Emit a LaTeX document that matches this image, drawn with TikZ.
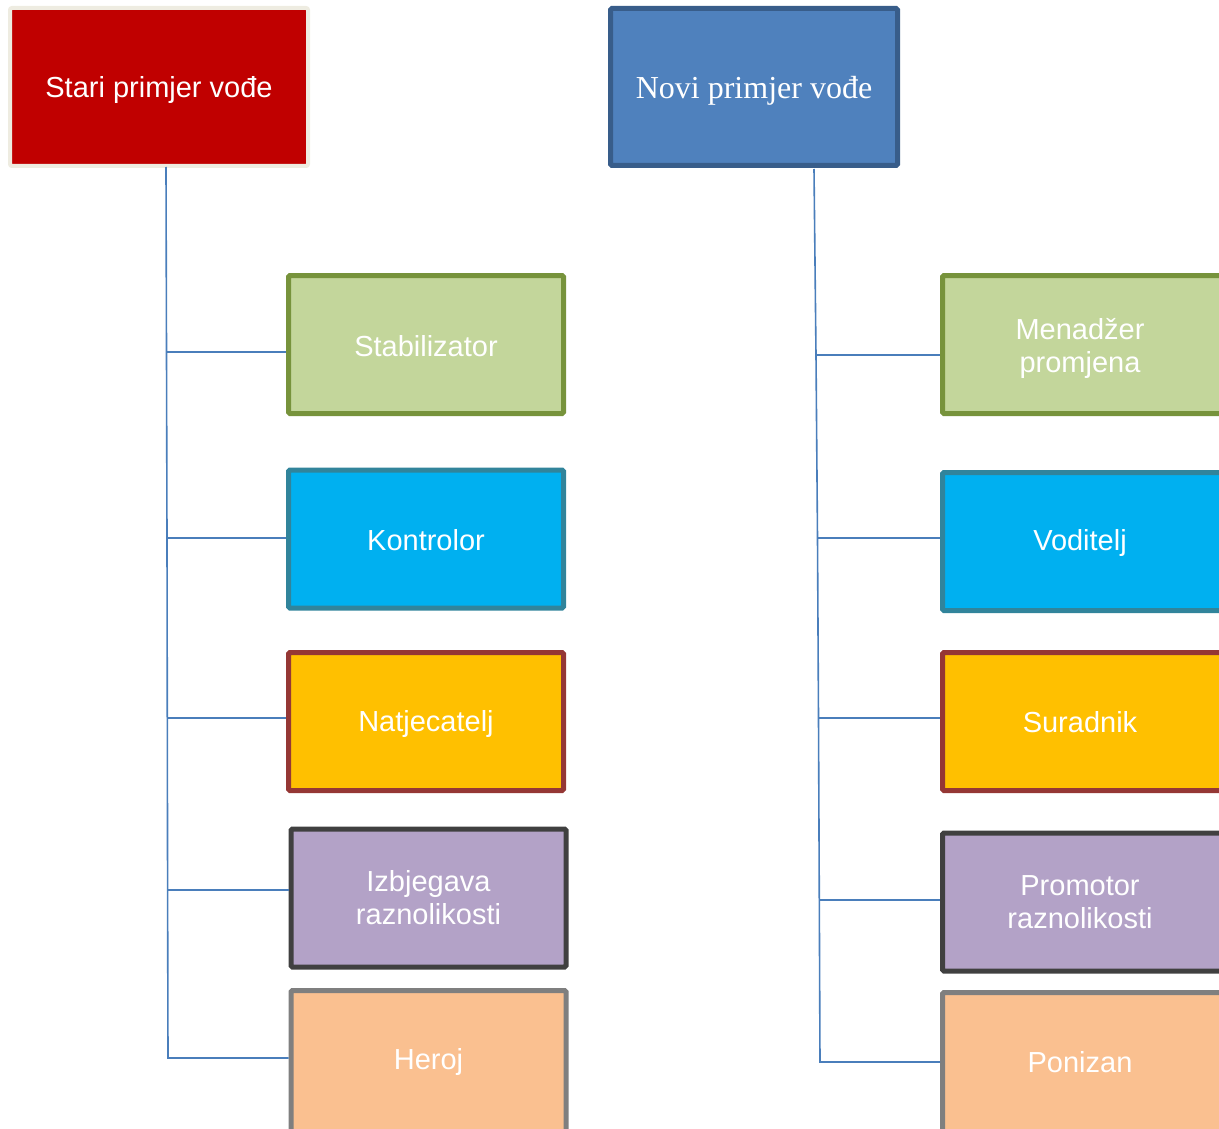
\documentclass[tikz,border=0pt]{standalone}
\usepackage{fontspec}
\setmainfont{Liberation Serif}
\newfontfamily\arialf{Liberation Sans}
\definecolor{titleRed}{HTML}{C00000}
\definecolor{titleRedBorder}{HTML}{EEECE1}
\definecolor{titleBlue}{HTML}{4F81BD}
\definecolor{titleBlueBorder}{HTML}{385D8A}
\definecolor{greenFill}{HTML}{C3D69B}
\definecolor{greenBorder}{HTML}{77933C}
\definecolor{cyanFill}{HTML}{00B0F0}
\definecolor{cyanBorder}{HTML}{31849B}
\definecolor{goldFill}{HTML}{FFC000}
\definecolor{goldBorder}{HTML}{953735}
\definecolor{purpleFill}{HTML}{B3A2C7}
\definecolor{purpleBorder}{HTML}{404040}
\definecolor{peachFill}{HTML}{FAC090}
\definecolor{peachBorder}{HTML}{7F7F7F}
\definecolor{connColor}{HTML}{4A7EBB}
\newcommand{\shiftv}[2]{\raisebox{#1}[\height][\depth]{#2}}
\tikzset{
  boxbase/.style={rectangle, draw, line width=5pt, rounded corners=1.5pt, inner sep=0pt,
    align=center, text=white, font=\arialf\fontsize{29}{33}\selectfont},
  childbox/.style={boxbase, minimum width=275pt, minimum height=138pt},
  greenbox/.style={childbox, fill=greenFill, draw=greenBorder},
  cyanbox/.style={childbox, fill=cyanFill, draw=cyanBorder},
  goldbox/.style={childbox, fill=goldFill, draw=goldBorder},
  purplebox/.style={childbox, fill=purpleFill, draw=purpleBorder},
  peachbox/.style={childbox, fill=peachFill, draw=peachBorder},
  rightbox/.style={minimum width=281pt},
  conn/.style={draw=connColor, line width=1.6pt},
}
\begin{document}
\begin{tikzpicture}[x=1pt,y=-1pt]
\useasboundingbox (0,0) rectangle (1219,1129);
\begin{scope}
\clip (0,0) rectangle (1219,1129);
% titles
\node[boxbase, fill=titleRed, draw=titleRedBorder, line width=4pt, rounded corners=2pt,
  minimum width=298pt, minimum height=158pt] (t1) at (159,87) {\shiftv{-3pt}{Stari primjer vođe}};
\node[boxbase, fill=titleBlue, draw=titleBlueBorder, font=\fontsize{32}{36}\selectfont,
  minimum width=287pt, minimum height=157pt] (t2) at (754,87) {\shiftv{-4pt}{Novi primjer vođe}};
% left children
\node[greenbox] (c1) at (426,344.5) {\shiftv{-1.5pt}{Stabilizator}};
\node[cyanbox] (c2) at (426,539) {\shiftv{-1pt}{Kontrolor}};
\node[goldbox] (c3) at (426,721.5) {\shiftv{-2.5pt}{Natjecatelj}};
\node[purplebox] (c4) at (428.5,898) {Izbjegava\\raznolikosti};
\node[peachbox, minimum height=150pt] (c5) at (428.5,1065.5) {\shiftv{4pt}{Heroj}};
% right children
\node[greenbox, rightbox] (d1) at (1083,344.5) {\shiftv{-4pt}{\hspace*{-6pt}Menadžer}\\\shiftv{-4pt}{\hspace*{-6pt}promjena}};
\node[cyanbox, rightbox] (d2) at (1083,541.5) {\shiftv{-1pt}{\hspace*{-6pt}Voditelj}};
\node[goldbox, rightbox] (d3) at (1083,721.5) {\shiftv{-1pt}{\hspace*{-6pt}Suradnik}};
\node[purplebox, rightbox] (d4) at (1083,902) {\hspace*{-6pt}Promotor\\\hspace*{-6pt}raznolikosti};
\node[peachbox, rightbox, minimum height=150pt] (d5) at (1083,1067.5) {\shiftv{5pt}{\hspace*{-6pt}Ponizan}};
% spine coordinates
\coordinate (L0) at (166,167);
\coordinate (L1) at (166.5,352);
\coordinate (L2) at (167,538);
\coordinate (L3) at (167.3,718);
\coordinate (L4) at (167.6,890);
\coordinate (L5) at (168,1058);
\coordinate (R0) at (814,169);
\coordinate (R1) at (816,355);
\coordinate (R2) at (817.5,538);
\coordinate (R3) at (818.5,718);
\coordinate (R4) at (819.3,900);
\coordinate (R5) at (820,1062);
\draw[conn] (L0) -- (L1) -- (L2) -- (L3) -- (L4) -- (L5) -- (L5 -| c5.west);
\draw[conn] (L1) -- (L1 -| c1.west);
\draw[conn] (L2) -- (L2 -| c2.west);
\draw[conn] (L3) -- (L3 -| c3.west);
\draw[conn] (L4) -- (L4 -| c4.west);
\draw[conn] (R0) -- (R1) -- (R2) -- (R3) -- (R4) -- (R5) -- (R5 -| d5.west);
\draw[conn] (R1) -- (R1 -| d1.west);
\draw[conn] (R2) -- (R2 -| d2.west);
\draw[conn] (R3) -- (R3 -| d3.west);
\draw[conn] (R4) -- (R4 -| d4.west);
\end{scope}
\end{tikzpicture}
\end{document}
